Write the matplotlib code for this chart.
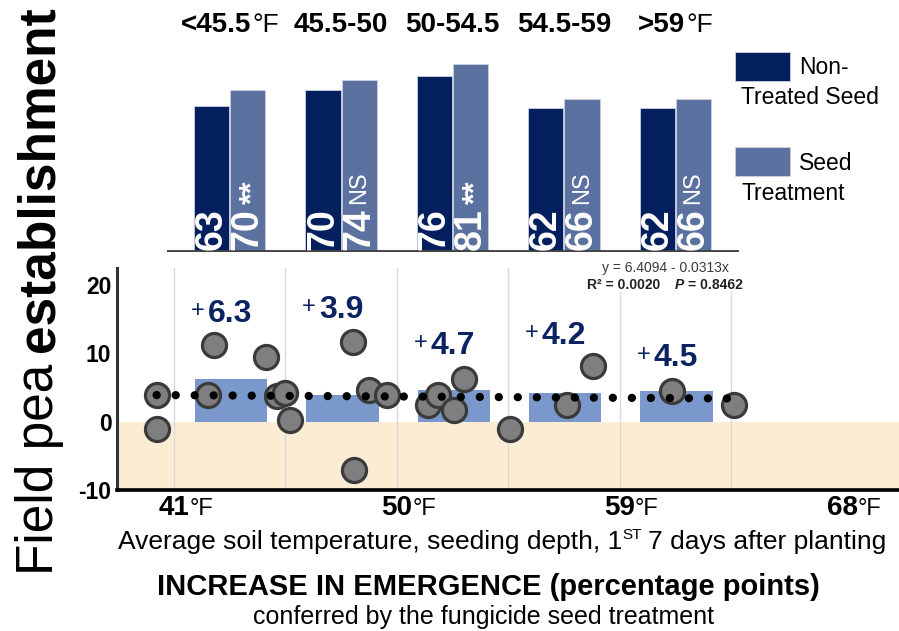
import matplotlib
matplotlib.use("Agg")
import matplotlib.pyplot as plt
from matplotlib.patches import Rectangle
from matplotlib.transforms import IdentityTransform

plt.rcParams['font.family'] = ['Liberation Sans', 'DejaVu Sans']

# ---- data -------------------------------------------------------------
bin_edges = [41.0, 45.5, 50.0, 54.5, 59.0, 63.5]
bin_names = ["<45.5", "45.5-50", "50-54.5", "54.5-59", ">59"]
bin_units = ["°F", "", "", "", "°F"]

nontreated = [63, 70, 76, 62, 62]          # emergence (%), non-treated seed
treated = [70, 74, 81, 66, 66]             # emergence (%), seed treatment
significance = ["**", "NS", "**", "NS", "NS"]

mean_increase = [6.3, 3.9, 4.7, 4.2, 4.5]  # percentage points per bin
increase_label_y = [16.2, 16.8, 11.5, 13.0, 9.8]

site_temp = [40.33, 40.30, 42.62, 42.39, 44.70, 45.15, 45.48, 45.68,
             48.24, 48.89, 49.59, 48.27, 51.27, 51.67, 52.29, 52.72,
             54.59, 57.93, 56.88, 61.10, 63.62]
site_increase = [3.9, -1.1, 11.2, 3.9, 9.4, 3.7, 4.2, 0.25,
                 11.7, 4.6, 3.9, -7.0, 2.45, 3.9, 1.7, 6.25,
                 -1.1, 8.2, 2.45, 4.55, 2.45]

trend_x = [40.3, 63.45]
trend_y = [3.9, 3.4]

temp_ticks = [41, 50, 59, 68]
y_ticks = [20, 10, 0, -10]

# ---- style ------------------------------------------------------------
NAVY = "#031f5e"
SLATE = "#5b72a0"
BAR_BLUE = "#7a98cb"
BEIGE = "#fcecd4"
LABEL_NAVY = "#0b2461"

W, H = 899, 631
fig = plt.figure(figsize=(W / 100, H / 100), dpi=100)


def frame(x0, top, x1, bottom):
    return [x0 / W, 1 - bottom / H, (x1 - x0) / W, (bottom - top) / H]


px_per_deg = 24.76
xlim = (41 - 57 / px_per_deg, 41 + 725 / px_per_deg)

ax = fig.add_axes(frame(117, 268, 899, 490))
axt = fig.add_axes(frame(117, 0, 899, 252))
for a in (ax, axt):
    a.set_xlim(*xlim)
ax.set_ylim(-10, 22.5)
axt.set_ylim(0, 252 / 2.32)
axt.axis("off")

centers = [(lo + hi) / 2 for lo, hi in zip(bin_edges[:-1], bin_edges[1:])]

# ---- top panel: emergence bars ---------------------------------------
bw = 1.42
axt.bar([c - bw / 2 - 0.02 for c in centers], nontreated, width=bw,
        color=NAVY, edgecolor="#c9d0e0", linewidth=0.6)
axt.bar([c + bw / 2 + 0.02 for c in centers], treated, width=bw,
        color=SLATE, edgecolor="#c9d0e0", linewidth=0.6)
axt.hlines(0, bin_edges[0] - 0.3, bin_edges[-1] + 0.3, color="#444444",
           linewidth=2.8, zorder=5)

renderer = fig.canvas.get_renderer()
for c, nt, tr, sig in zip(centers, nontreated, treated, significance):
    for x, v in ((c - bw / 2 - 0.02, nt), (c + bw / 2 + 0.02, tr)):
        axt.annotate(str(v), xy=(x, 0), xytext=(0, 1.5), textcoords="offset points",
                     rotation=90, ha="center", va="bottom", color="white",
                     fontsize=27, fontweight="bold", zorder=6)
    xs = c + bw / 2 + 0.02
    probe = axt.annotate(str(tr), xy=(xs, 0), xytext=(0, 1.5),
                         textcoords="offset points", rotation=90, ha="center",
                         va="bottom", fontsize=27, fontweight="bold", alpha=0)
    h = probe.get_window_extent(renderer).height
    probe.remove()
    if sig == "**":
        axt.annotate(sig, xy=(xs, 0), xytext=(4, 1.5 + h * 0.72 + 3),
                     textcoords="offset points", rotation=90, ha="center",
                     va="bottom", color="white", fontsize=22,
                     fontweight="bold", zorder=6)
    else:
        axt.annotate(sig, xy=(xs, 0), xytext=(0, 1.5 + h * 0.72 + 3),
                     textcoords="offset points", rotation=90, ha="center",
                     va="bottom", color="white", fontsize=17, zorder=6)


def place_runs(x, y, parts, anchor=None):
    """Lay out text pieces left to right on one baseline (display pixels)."""
    items = []
    for s, kw, gap, dy in parts:
        t = fig.text(0, 0, s, transform=IdentityTransform(), ha="left",
                     va="baseline", **kw)
        items.append((t, t.get_window_extent(renderer).width, gap, dy))
    offs, cur = [], 0.0
    for t, w, gap, dy in items:
        cur += gap
        offs.append(cur)
        cur += w
    if anchor is None:
        start = x - cur / 2
    else:
        start = x - (offs[anchor] + items[anchor][1] / 2)
    for (t, w, gap, dy), o in zip(items, offs):
        t.set_position((start + o, y + dy))


# bin headers
for c, name, unit in zip(centers, bin_names, bin_units):
    xd, _ = axt.transData.transform((c, 0))
    parts = [(name, dict(fontsize=20, fontweight="bold"), 0, 0)]
    if unit:
        parts.append((unit, dict(fontsize=19), 1, 0))
    place_runs(xd, H - 32, parts)

# legend
def legend_box(x0, top, x1, bottom, color):
    fig.add_artist(Rectangle((x0 / W, 1 - bottom / H), (x1 - x0) / W,
                             (bottom - top) / H, transform=fig.transFigure,
                             facecolor=color, edgecolor="#c9d0e0", linewidth=0.6))


legend_box(735, 52, 790, 81, NAVY)
legend_box(735, 147, 790, 176, SLATE)
fig.text(799 / W, 1 - 68 / H, "Non-", fontsize=16.5, va="center", ha="left")
fig.text(741 / W, 1 - 98 / H, "Treated Seed", fontsize=16.5, va="center", ha="left")
fig.text(799 / W, 1 - 163 / H, "Seed", fontsize=16.5, va="center", ha="left")
fig.text(741 / W, 1 - 193 / H, "Treatment", fontsize=16.5, va="center", ha="left")

# ---- bottom panel: increase in emergence vs soil temperature ---------
ax.axhspan(-10, 0, color=BEIGE, zorder=0, linewidth=0)
for e in bin_edges:
    ax.axvline(e, color="#d9d9d9", linewidth=1.0, zorder=0.5)
ax.bar([c + 0.05 for c in centers], mean_increase, width=2.92,
       color=BAR_BLUE, zorder=1)
ax.scatter(site_temp, site_increase, s=300, facecolor="#7f7f7f",
           edgecolor="#3a3a3a", linewidth=2.3, zorder=3)
ax.plot(trend_x, trend_y, color="black", linewidth=6,
        linestyle=(0, (0.001, 2.28)), dash_capstyle="round", zorder=4)

for side in ("top", "right"):
    ax.spines[side].set_visible(False)
ax.spines["left"].set_color("#333333")
ax.spines["left"].set_linewidth(2.2)
ax.spines["bottom"].set_color("black")
ax.spines["bottom"].set_linewidth(2.6)
ax.set_yticks(y_ticks)
ax.set_yticklabels([str(v) for v in y_ticks], fontsize=16.5, fontweight="bold")
ax.tick_params(axis="y", length=0, pad=4)
ax.set_xticks([])

for c, v, ly in zip(centers, mean_increase, increase_label_y):
    xd, yd = ax.transData.transform((c, ly))
    place_runs(xd, yd - 11,
               [("+", dict(fontsize=17, color=LABEL_NAVY), 0, 5),
                (f"{v:.1f}", dict(fontsize=23, fontweight="bold", color=LABEL_NAVY), 3, 0)],
               anchor=1)

# temperature tick labels
for t in temp_ticks:
    xd, _ = ax.transData.transform((t, 0))
    place_runs(xd, H - 515,
               [(str(t), dict(fontsize=20, fontweight="bold"), 0, 0),
                ("°F", dict(fontsize=17), 0, 0)], anchor=0)

# regression summary
fig.add_artist(Rectangle((586 / W, 1 - 292 / H), 160 / W, 33 / H,
                         transform=fig.transFigure, facecolor="white",
                         edgecolor="none", zorder=2))
fig.text(665 / W, 1 - 272 / H, "y = 6.4094 - 0.0313x", fontsize=10,
         color="#3a3a3a", ha="center", va="baseline", zorder=3)
place_runs(665, H - 289,
           [("R² = 0.0020", dict(fontsize=10, fontweight="bold", color="#222222"), 0, 0),
            ("P", dict(fontsize=10, fontweight="bold", style="italic", color="#222222"), 14, 0),
            ("= 0.8462", dict(fontsize=10, fontweight="bold", color="#222222"), 4, 0)])

# axis captions
place_runs(502, H - 549,
           [("Average soil temperature, seeding depth, 1", dict(fontsize=19), 0, 0),
            ("ST", dict(fontsize=11), 1, 10),
            ("7 days after planting", dict(fontsize=19), 6, 0)])
fig.text(488 / W, 1 - 595 / H, "INCREASE IN EMERGENCE (percentage points)",
         fontsize=21, fontweight="bold", ha="center", va="baseline")
fig.text(484 / W, 1 - 624 / H, "conferred by the fungicide seed treatment",
         fontsize=18, ha="center", va="baseline")

# vertical title: "Field pea" regular + "establishment" bold
t1 = fig.text(40, H - 575, "Field pea", transform=IdentityTransform(),
              rotation=90, ha="center", va="bottom", fontsize=37)
h1 = t1.get_window_extent(renderer).height
fig.text(40, H - 575 + h1 + 12, "establishment", transform=IdentityTransform(),
         rotation=90, ha="center", va="bottom", fontsize=37, fontweight="bold")

fig.savefig("out.png", dpi=100)
